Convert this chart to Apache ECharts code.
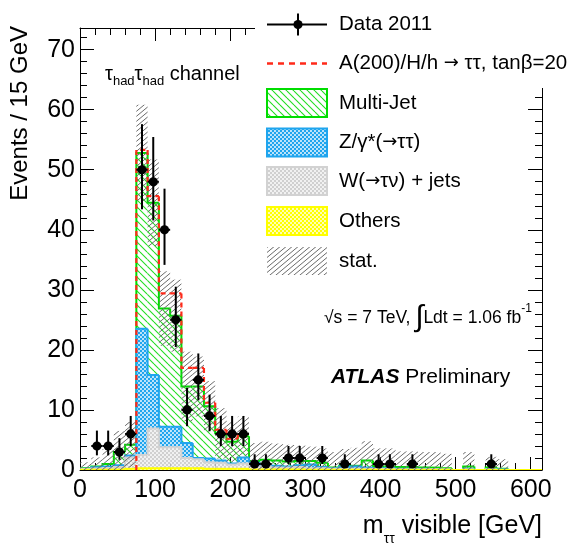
<!DOCTYPE html>
<html>
<head>
<meta charset="utf-8">
<script src="https://cdn.jsdelivr.net/npm/echarts@6/dist/echarts.min.js"></script>
<style>
  html, body { margin: 0; padding: 0; background: #fff; }
  #chart { width: 581px; height: 546px; }
</style>
</head>
<body>
<div id="chart"></div>
<script>
// Visible di-tau mass, tau_had tau_had channel, 15 GeV bins from 0 to 615 GeV
const BIN = 15;
const X_MAX = 615;
const Y_MAX = 73.6;

const xTickLabels = [0, 100, 200, 300, 400, 500, 600];
const yTickLabels = [0, 10, 20, 30, 40, 50, 60, 70];

// Observed events per bin
const dataCounts = [0, 4, 4, 3, 6, 50, 48, 40, 25, 10,
                    15, 9, 6, 6, 6, 1, 1, 0, 2, 2,
                    0, 2, 0, 1, 0, 0, 1, 1, 0, 1,
                    0, 0, 0, 0, 0, 0, 1, 0, 0, 0,
                    0];

// Background contributions per bin (stacked bottom to top)
const others = [0.05, 0.05, 0.05, 0.1, 0.2, 0.3, 0.3, 0.3, 0.3, 0.3,
                0.3, 0.2, 0.2, 0.2, 0.2, 0.1, 0.1, 0.1, 0.1, 0.1,
                0.05, 0.05, 0.05, 0.05, 0.05, 0.05, 0.05, 0.05, 0.05, 0.05,
                0.05, 0.05, 0.05, 0, 0.05, 0, 0.05, 0.02, 0, 0,
                0];
const wJets = [0.1, 0.2, 0.3, 0.4, 1.9, 2.2, 6.6, 3.5, 3.5, 1.7,
               1.5, 1.1, 1.0, 0.7, 0.9, 0.5, 0.5, 0.3, 0.3, 0.4,
               0.25, 0.25, 0.15, 0.15, 0.15, 0.15, 0.1, 0.1, 0.05, 0.05,
               0.05, 0.05, 0.05, 0, 0.05, 0, 0.05, 0.03, 0, 0,
               0];
const zTauTau = [0.05, 0.2, 0.25, 0.3, 0.3, 21.0, 8.9, 3.4, 3.4, 2.5,
                 0.2, 0.6, 0.4, 0.2, 1.0, 0.6, 0.3, 0.3, 0.2, 0.3,
                 0.6, 0.2, 0.1, 0.4, 0.4, 0.2, 0.15, 0.15, 0.1, 0.1,
                 0.1, 0.05, 0, 0, 0.1, 0, 0.05, 0.05, 0, 0,
                 0];
const multiJet = [0.1, 0.15, 0.4, 2.2, 1.8, 29.3, 28.7, 19.7, 18.5, 9.4,
                  11.9, 8.7, 4.5, 3.6, 3.5, 0.3, 0.8, 0.9, 0.8, 0.7,
                  0.6, 0.7, 0.1, 0.1, 0.1, 1.2, 0.3, 0.3, 0.3, 0.3,
                  0.2, 0.25, 0.2, 0, 0.4, 0, 0.25, 0.1, 0, 0,
                  0];
// A(200)/H/h signal, tan(beta)=20, added on top of the background sum
const signalA200 = [0, 0, 0, 0, 0, 0.5, 1.1, 2.5, 3.7, 3.1,
                    3.1, 0.6, 0.6, 0.5, 0.3, 0, 0, 0, 0, 0,
                    0, 0, 0, 0, 0, 0, 0, 0, 0, 0,
                    0, 0, 0, 0, 0, 0, 0, 0, 0, 0,
                    0];
// Statistical uncertainty on the background sum
const statError = [1.0, 1.5, 2.5, 3.5, 3.8, 8.0, 7.2, 6.2, 6.0, 5.8,
                   5.0, 4.2, 4.2, 3.4, 3.3, 3.0, 3.0, 2.8, 2.8, 2.6,
                   2.4, 2.4, 2.6, 2.8, 3.0, 3.2, 3.0, 3.0, 2.6, 2.6,
                   2.6, 2.6, 2.4, 0, 2.4, 0, 1.8, 1.6, 0, 0,
                   0];

const FONT = "'Liberation Sans', Arial, Helvetica, sans-serif";
const ARROW_FONT = "'DejaVu Sans', sans-serif";

// ---- fill patterns -------------------------------------------------------
function makeHatch(color, w, h, backslash, lw) {
  const c = document.createElement('canvas');
  c.width = w; c.height = h;
  const g = c.getContext('2d');
  g.strokeStyle = color; g.lineWidth = lw;
  for (let k = -1; k <= 1; k++) {
    g.beginPath();
    if (backslash) { g.moveTo(0, k * h); g.lineTo(w, h + k * h); }
    else { g.moveTo(0, h + k * h); g.lineTo(w, k * h); }
    g.stroke();
  }
  return { image: c, repeat: 'repeat' };
}
function makeDots(color, size, r) {
  const c = document.createElement('canvas');
  c.width = size; c.height = size;
  const g = c.getContext('2d');
  g.fillStyle = color; g.fillRect(0, 0, size, size);
  g.fillStyle = '#fff';
  [[size / 4, size / 4], [3 * size / 4, 3 * size / 4]].forEach(([x, y]) => {
    g.beginPath(); g.arc(x, y, r, 0, Math.PI * 2); g.fill();
  });
  return { image: c, repeat: 'repeat' };
}

const COL = {
  mj: '#00dd00', z: '#1fa5ee', w: '#d2d2d2', oth: '#ffff00',
  stat: '#6e6e6e', sig: '#ff2a1a'
};
const PAT = {
  mj: makeHatch('#22dd22', 7, 7, true, 1.1),
  z: makeDots(COL.z, 4, 0.95),
  w: makeDots('#d0d0d0', 4, 0.95),
  oth: makeDots('#ffff00', 4, 0.95),
  stat: makeHatch('#6a6a6a', 6, 5, false, 1)
};

// ---- stacking ------------------------------------------------------------
const binLow = dataCounts.map((_, i) => i * BIN);
const r3 = v => Math.round(v * 1000) / 1000;
const cumOthers = others.map(v => r3(v));
const cumW = cumOthers.map((v, i) => r3(v + wJets[i]));
const cumZ = cumW.map((v, i) => r3(v + zTauTau[i]));
const cumMJ = cumZ.map((v, i) => r3(v + multiJet[i]));

function stackItems(lower, upper) {
  return binLow.map((x, i) => [x, lower[i], upper[i], i > 0 ? upper[i - 1] : 0]);
}

function stackRender(fill, edge, lw) {
  return function (params, api) {
    const x0 = api.value(0), lo = api.value(1), hi = api.value(2), prev = api.value(3);
    const tl = api.coord([x0, hi]);
    const br = api.coord([x0 + BIN, lo]);
    const pv = api.coord([x0, prev]);
    const children = [];
    if (hi > lo) {
      children.push({
        type: 'rect',
        shape: { x: tl[0], y: tl[1], width: br[0] - tl[0], height: br[1] - tl[1] },
        style: { fill: fill }
      });
    }
    children.push({
      type: 'polyline',
      shape: { points: [[tl[0], pv[1]], [tl[0], tl[1]], [br[0], tl[1]]] },
      style: { stroke: edge, lineWidth: lw, fill: null }
    });
    return { type: 'group', children };
  };
}

// statistical band around the background sum
const statItems = [];
binLow.forEach((x, i) => {
  if (statError[i] > 0) {
    statItems.push([x, Math.max(0, r3(cumMJ[i] - statError[i])), r3(cumMJ[i] + statError[i])]);
  }
});
function statRender(params, api) {
  const x0 = api.value(0), lo = api.value(1), hi = api.value(2);
  const tl = api.coord([x0, hi]);
  const br = api.coord([x0 + BIN, lo]);
  return {
    type: 'rect',
    shape: { x: tl[0], y: tl[1], width: br[0] - tl[0], height: br[1] - tl[1] },
    style: { fill: PAT.stat }
  };
}

// signal + background outline
const sigItems = [];
binLow.forEach((x, i) => {
  if (signalA200[i] > 0) {
    const prev = (i > 0 && signalA200[i - 1] > 0) ? r3(cumMJ[i - 1] + signalA200[i - 1]) : 0;
    sigItems.push([x, r3(cumMJ[i] + signalA200[i]), prev]);
  }
});
function sigRender(params, api) {
  const x0 = api.value(0), top = api.value(1), prev = api.value(2);
  const a = api.coord([x0, top]);
  const b = api.coord([x0 + BIN, top]);
  const p = api.coord([x0, prev]);
  return {
    type: 'polyline',
    shape: { points: [[a[0], p[1]], a, b] },
    style: { stroke: COL.sig, lineWidth: 2.2, lineDash: [5, 4], fill: null }
  };
}

// data points with Poisson-like error bars
const dataItems = [];
binLow.forEach((x, i) => {
  const n = dataCounts[i];
  if (n > 0) {
    const s = Math.sqrt(n + 0.25);
    dataItems.push([x + BIN / 2, n, n - (s - 0.5), n + (s + 0.5)]);
  }
});
function dataRender(params, api) {
  const xc = api.value(0), n = api.value(1), lo = api.value(2), hi = api.value(3);
  const c = api.coord([xc, n]);
  const l = api.coord([xc - BIN / 2, n]);
  const r = api.coord([xc + BIN / 2, n]);
  const t = api.coord([xc, hi]);
  const b = api.coord([xc, lo]);
  return {
    type: 'group',
    children: [
      { type: 'line', shape: { x1: l[0], y1: c[1], x2: r[0], y2: c[1] }, style: { stroke: '#000', lineWidth: 2 } },
      { type: 'line', shape: { x1: c[0], y1: t[1], x2: c[0], y2: b[1] }, style: { stroke: '#000', lineWidth: 2 } },
      { type: 'circle', shape: { cx: c[0], cy: c[1], r: 4.6 }, style: { fill: '#000' } }
    ]
  };
}

// ---- axes ----------------------------------------------------------------
function frameAxis(dim, position, labels, interval, max, showLabels) {
  const ax = {
    type: 'value', position, min: 0, max, interval,
    axisLine: { show: true, onZero: false, lineStyle: { color: '#000', width: 1 } },
    axisTick: { show: true, inside: true, length: dim === 'x' ? 13 : 14, lineStyle: { color: '#000', width: 1 } },
    minorTick: { show: true, splitNumber: 5, length: 7, lineStyle: { color: '#000', width: 1 } },
    splitLine: { show: false },
    axisLabel: { show: false }
  };
  if (showLabels) {
    ax.axisLabel = {
      show: true, color: '#000', fontSize: 25, fontFamily: FONT,
      margin: dim === 'x' ? 8 : 5,
      formatter: v => labels.indexOf(v) >= 0 ? String(v) : ''
    };
  }
  return ax;
}

// ---- legend --------------------------------------------------------------
const legendY = { data: 24.5, sig: 63.5, mj: 103, z: 142.5, w: 181, oth: 221, stat: 261 };
const boxX = 267, boxW = 60, boxH = 28, textX = 339;
const legendRich = {
  t: { fontSize: 20.5, fontFamily: FONT },
  a: { fontSize: 18, fontFamily: ARROW_FONT }
};

function legendBox(cy, fill, stroke) {
  return {
    type: 'rect', z: 101,
    shape: { x: boxX, y: cy - boxH / 2, width: boxW, height: boxH },
    style: { fill: fill, stroke: stroke, lineWidth: stroke ? 2 : 0 }
  };
}
function legendText(cy, text) {
  return {
    type: 'text', z: 101, x: textX, y: cy,
    style: { text, rich: legendRich, fill: '#000', align: 'left', verticalAlign: 'middle' }
  };
}

const option = {
  animation: false,
  backgroundColor: '#fff',
  grid: { left: 80, right: 39, top: 28, bottom: 76, containLabel: false },
  xAxis: [
    frameAxis('x', 'bottom', xTickLabels, 100, X_MAX, true),
    frameAxis('x', 'top', xTickLabels, 100, X_MAX, false)
  ],
  yAxis: [
    frameAxis('y', 'left', yTickLabels, 10, Y_MAX, true),
    frameAxis('y', 'right', yTickLabels, 10, Y_MAX, false)
  ],
  series: [
    { type: 'custom', name: 'Multi-Jet', clip: true, renderItem: stackRender(PAT.mj, COL.mj, 2), data: stackItems(cumZ, cumMJ) },
    { type: 'custom', name: 'Z', clip: true, renderItem: stackRender(PAT.z, COL.z, 2), data: stackItems(cumW, cumZ) },
    { type: 'custom', name: 'W', clip: true, renderItem: stackRender(PAT.w, COL.w, 2), data: stackItems(cumOthers, cumW) },
    { type: 'custom', name: 'Others', clip: true, renderItem: stackRender(PAT.oth, COL.oth, 2), data: stackItems(binLow.map(() => 0), cumOthers) },
    { type: 'custom', name: 'stat.', clip: true, renderItem: statRender, data: statItems },
    { type: 'custom', name: 'A(200)', clip: true, renderItem: sigRender, data: sigItems },
    { type: 'custom', name: 'Data 2011', clip: true, renderItem: dataRender, data: dataItems }
  ],
  graphic: [
    // axis titles
    {
      type: 'text', z: 100, x: 542, y: 506,
      style: {
        text: '{m|m}{s|ττ}{m| visible [GeV]}', align: 'right', verticalAlign: 'top', fill: '#000',
        rich: {
          m: { fontSize: 25, fontFamily: FONT, lineHeight: 40, verticalAlign: 'middle' },
          s: { fontSize: 14, fontFamily: FONT, lineHeight: 14, verticalAlign: 'bottom' }
        }
      }
    },
    {
      type: 'text', z: 100, x: 20, y: 26, rotation: Math.PI / 2,
      style: { text: 'Events / 15 GeV', font: '24px ' + FONT, fill: '#000', align: 'right', verticalAlign: 'middle' }
    },
    // channel label
    {
      type: 'text', z: 100, x: 105, y: 60,
      style: {
        text: '{t|τ}{s|had}{t|τ}{s|had}{t| channel}', align: 'left', verticalAlign: 'top', fill: '#000',
        rich: {
          t: { fontSize: 20, fontFamily: FONT, lineHeight: 28, verticalAlign: 'middle' },
          s: { fontSize: 13, fontFamily: FONT, lineHeight: 13, verticalAlign: 'bottom' }
        }
      }
    },
    // luminosity and experiment labels
    {
      type: 'text', z: 100, x: 324, y: 303,
      style: {
        text: '{n|√s = 7 TeV, }{i|∫}{n|Ldt = 1.06 fb}{p|-1}', align: 'left', verticalAlign: 'top', fill: '#000',
        rich: {
          n: { fontSize: 17.5, fontFamily: FONT, lineHeight: 30, verticalAlign: 'middle' },
          i: { fontSize: 30, fontFamily: FONT, lineHeight: 30, verticalAlign: 'middle' },
          p: { fontSize: 12, fontFamily: FONT, lineHeight: 12, verticalAlign: 'top' }
        }
      }
    },
    {
      type: 'text', z: 100, x: 331, y: 377,
      style: {
        text: '{b|ATLAS}{n| Preliminary}', align: 'left', verticalAlign: 'middle', fill: '#000',
        rich: {
          b: { fontSize: 21, fontFamily: FONT, fontWeight: 'bold', fontStyle: 'italic' },
          n: { fontSize: 21, fontFamily: FONT }
        }
      }
    },
    // legend background
    { type: 'rect', z: 100, shape: { x: 255, y: 0, width: 326, height: 88 }, style: { fill: '#fff' } },
    // Data
    { type: 'line', z: 101, shape: { x1: boxX, y1: legendY.data, x2: boxX + boxW, y2: legendY.data }, style: { stroke: '#000', lineWidth: 2 } },
    { type: 'line', z: 101, shape: { x1: 298, y1: legendY.data - 11, x2: 298, y2: legendY.data + 11 }, style: { stroke: '#000', lineWidth: 2 } },
    { type: 'circle', z: 102, shape: { cx: 298, cy: legendY.data, r: 4.6 }, style: { fill: '#000' } },
    legendText(legendY.data, '{t|Data 2011}'),
    // signal
    { type: 'line', z: 101, shape: { x1: boxX, y1: legendY.sig, x2: boxX + boxW, y2: legendY.sig }, style: { stroke: COL.sig, lineWidth: 2.5, lineDash: [6, 5] } },
    legendText(legendY.sig, '{t|A(200)/H/h }{a|→}{t| ττ, tanβ=20}'),
    // backgrounds
    legendBox(legendY.mj, PAT.mj, COL.mj),
    legendText(legendY.mj, '{t|Multi-Jet}'),
    legendBox(legendY.z, PAT.z, COL.z),
    legendText(legendY.z, '{t|Z/γ*(}{a|→}{t|ττ)}'),
    legendBox(legendY.w, PAT.w, COL.w),
    legendText(legendY.w, '{t|W(}{a|→}{t|τν) + jets}'),
    legendBox(legendY.oth, PAT.oth, COL.oth),
    legendText(legendY.oth, '{t|Others}'),
    legendBox(legendY.stat, PAT.stat, null),
    legendText(legendY.stat, '{t|stat.}')
  ]
};

const chart = echarts.init(document.getElementById('chart'), null, { renderer: 'canvas' });
chart.setOption(option);
</script>
</body>
</html>
